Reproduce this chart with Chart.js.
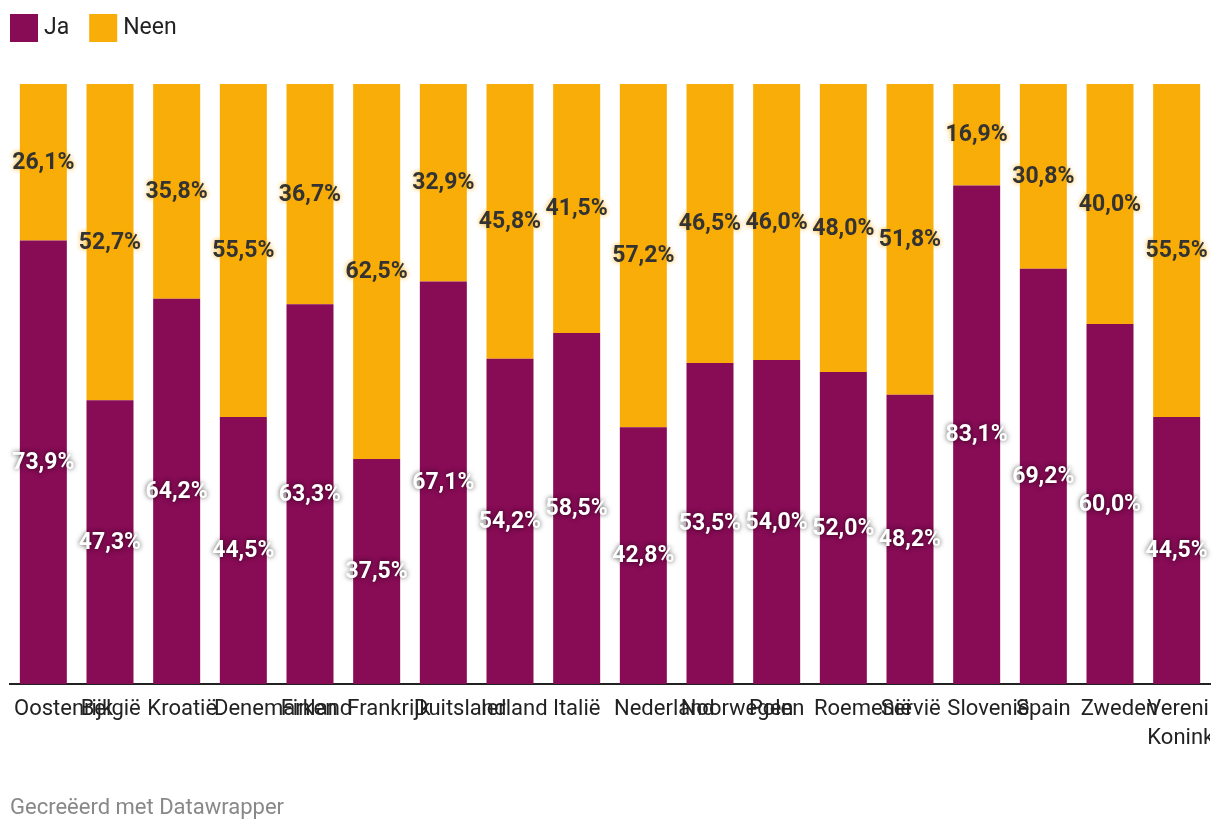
<!DOCTYPE html>
<html lang="nl">
<head>
<meta charset="utf-8">
<title>Ja / Neen per land</title>
<script src="https://cdn.jsdelivr.net/npm/chart.js@4.4.1/dist/chart.umd.min.js"></script>
<style>
  html, body { margin: 0; padding: 0; background: #fff; }
  .chart-box { position: relative; width: 1220px; height: 834px; }
</style>
</head>
<body>
<div class="chart-box"><canvas id="chart"></canvas></div>
<script>
const countries = ['Oostenrijk', 'België', 'Kroatië', 'Denemarken', 'Finland', 'Frankrijk',
    'Duitsland', 'Ierland', 'Italië', 'Nederland', 'Noorwegen', 'Polen', 'Roemenië',
    'Servië', 'Slovenië', 'Spain', 'Zweden', 'Verenigd Koninkrijk'];
const jaValues = [73.9, 47.3, 64.2, 44.5, 63.3, 37.5, 67.1, 54.2, 58.5, 42.8, 53.5, 54.0, 52.0, 48.2, 83.1, 69.2, 60.0, 44.5];
const neenValues = [26.1, 52.7, 35.8, 55.5, 36.7, 62.5, 32.9, 45.8, 41.5, 57.2, 46.5, 46.0, 48.0, 51.8, 16.9, 30.8, 40.0, 55.5];
const seriesNames = ['Ja', 'Neen'];
const footerText = 'Gecreëerd met Datawrapper';

const purple = '#870b55';
const orange = '#f9ad08';

function formatPct(v) {
    return v.toFixed(1).replace('.', ',') + '%';
}

// legend with square swatches, top left, plus the credit line at the bottom
const legendPlugin = {
    id: 'squareLegend',
    afterDraw(chart) {
        const ctx = chart.ctx;
        ctx.save();
        ctx.font = '23px Roboto';
        ctx.textBaseline = 'middle';
        let x = 10;
        chart.data.datasets.forEach(ds => {
            ctx.fillStyle = ds.backgroundColor;
            ctx.fillRect(x, 14, 28, 28);
            ctx.fillStyle = '#222';
            ctx.fillText(ds.label, x + 34, 28);
            x += 34 + ctx.measureText(ds.label).width + 20;
        });
        ctx.fillStyle = '#888';
        ctx.font = '22px Roboto';
        ctx.fillText(footerText, 10, 808);
        ctx.restore();
    }
};

// percentage labels in the middle of each segment
const valueLabels = {
    id: 'valueLabels',
    afterDatasetsDraw(chart) {
        const ctx = chart.ctx;
        ctx.save();
        ctx.font = 'bold 23px Roboto';
        ctx.textAlign = 'center';
        ctx.textBaseline = 'middle';
        chart.data.datasets.forEach((ds, di) => {
            const meta = chart.getDatasetMeta(di);
            meta.data.forEach((bar, i) => {
                const y = (bar.y + bar.base) / 2;
                if (di === 0) {
                    ctx.fillStyle = '#fff';
                    ctx.shadowColor = 'rgba(0,0,0,0.7)';
                } else {
                    ctx.fillStyle = '#333';
                    ctx.shadowColor = 'rgba(249,173,8,1)';
                }
                ctx.shadowBlur = 5;
                ctx.fillText(formatPct(ds.data[i]), bar.x, y + 1);
            });
        });
        ctx.restore();
    }
};

// category labels: centred when they fit, otherwise starting at the band edge
const categoryLabels = {
    id: 'categoryLabels',
    afterDraw(chart) {
        const ctx = chart.ctx;
        const xs = chart.scales.x;
        const area = chart.chartArea;
        const band = (area.right - area.left) / countries.length;
        ctx.save();
        ctx.beginPath();
        ctx.rect(area.left, area.bottom, area.right - area.left, 100);
        ctx.clip();
        ctx.font = '22px Roboto';
        ctx.fillStyle = '#222';
        ctx.textBaseline = 'middle';
        countries.forEach((name, i) => {
            const cx = xs.getPixelForValue(i);
            name.split(' ').forEach((line, li) => {
                const w = ctx.measureText(line).width;
                const y = 709 + li * 29;
                if (w > band - 8) {
                    ctx.textAlign = 'left';
                    ctx.fillText(line, cx - band / 2 + 4, y);
                } else {
                    ctx.textAlign = 'center';
                    ctx.fillText(line, cx, y);
                }
            });
        });
        ctx.restore();
    }
};

new Chart(document.getElementById('chart'), {
    type: 'bar',
    data: {
        labels: countries,
        datasets: [
            {
                label: seriesNames[0],
                data: jaValues,
                backgroundColor: purple,
                barPercentage: 0.705,
                categoryPercentage: 1
            },
            {
                label: seriesNames[1],
                data: neenValues,
                backgroundColor: orange,
                barPercentage: 0.705,
                categoryPercentage: 1
            }
        ]
    },
    options: {
        responsive: true,
        maintainAspectRatio: false,
        animation: false,
        layout: {
            padding: { left: 10, right: 10, top: 84, bottom: 150 }
        },
        plugins: {
            legend: { display: false },
            tooltip: { enabled: false }
        },
        scales: {
            x: {
                stacked: true,
                grid: { display: false, drawTicks: false },
                border: { display: true, color: '#222', width: 2 },
                ticks: { display: false }
            },
            y: {
                stacked: true,
                display: false,
                min: 0,
                max: 100
            }
        }
    },
    plugins: [legendPlugin, valueLabels, categoryLabels]
});
</script>
</body>
</html>
